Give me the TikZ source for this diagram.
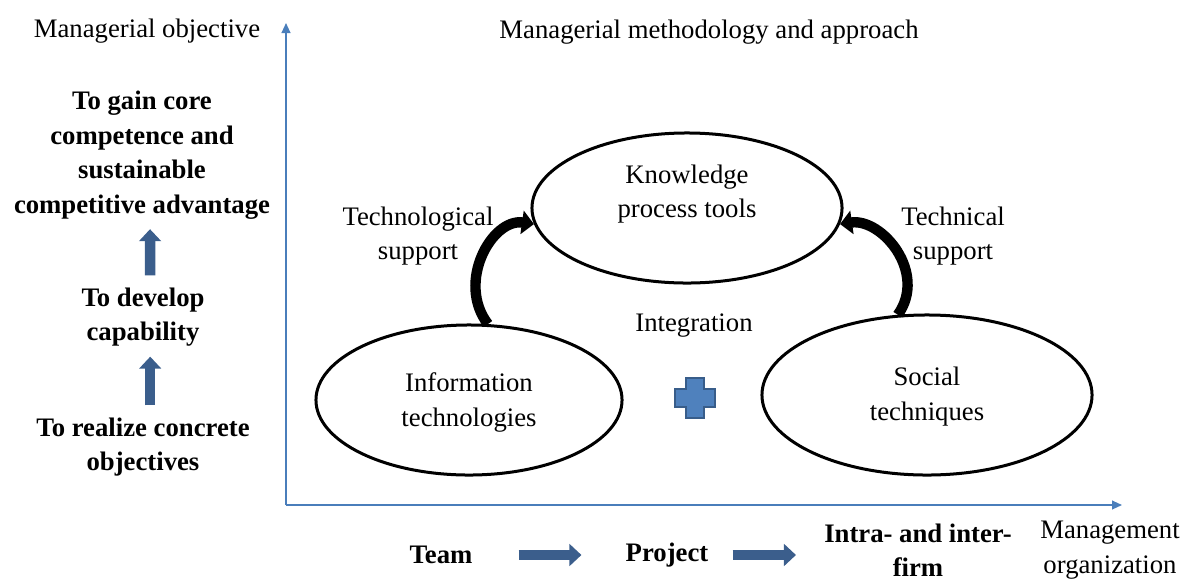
\documentclass[tikz,border=0pt]{standalone}
\usepackage{fontspec}
\setmainfont{Liberation Serif}
\usetikzlibrary{shapes.geometric, arrows.meta}

\definecolor{AxisBlue}{HTML}{4A7EBB}
\definecolor{BlockBlue}{HTML}{3B5E8C}
\definecolor{PlusFill}{HTML}{4F81BD}
\definecolor{PlusLine}{HTML}{385D8A}

\begin{document}
\begin{tikzpicture}
	[x=0.025cm, y=-0.025cm,								%1 unit = 1 pixel of the layout grid
	 every node/.style={font=\fontsize{19}{24.5}\selectfont, align=center, inner sep=0pt},
	 Goal/.style={font=\fontsize{19}{24.5}\selectfont\bfseries},
	 Method/.style={ellipse, draw, line width=0.075cm},	%Ellipses of the three methods
	 SupportArrow/.style={line width=0.26cm, -{Triangle[width=0.58cm, length=0.3cm]}},
	 FlowArrow/.style={BlockBlue, line width=0.26cm, -{Triangle[width=0.54cm, length=0.3cm]}},
	 Axis/.style={AxisBlue, line width=0.04cm, -{Triangle[width=0.22cm, length=0.25cm]}}
	]

	\useasboundingbox (0,0) rectangle (1189,579);

	% axes
	\coordinate (O) at (286,505);
	\coordinate (ytop) at (286,23);
	\coordinate (xend) at (1122,505);
	\draw[Axis] (O) -- (ytop);
	\draw[Axis] (O) -- (xend);

	\node (yname) at (147,31) {Managerial objective};
	\node (title) at (709,32) {Managerial methodology and approach};

	% managerial objectives, bottom to top
	\node[Goal] (gain) at (142,155) {To gain core\\competence and\\sustainable\\competitive advantage};
	\node[Goal] (develop) at (143,317) {To develop\\capability};
	\node[Goal] (realize) at (143,447) {To realize concrete\\objectives};
	\draw[FlowArrow, shorten <=0.3cm, shorten >=0.25cm] ([xshift=0.18cm]realize.north) -- ([xshift=0.18cm]develop.south);
	\draw[FlowArrow, shorten <=0.3cm, shorten >=0.25cm] ([xshift=0.18cm]develop.north) -- ([xshift=0.2cm]gain.south);

	% methods
	\node[Method, minimum width=7.75cm, minimum height=3.75cm] (know) at (687,208) {};
	\node (knowtext) at (687,194) {Knowledge\\process tools};
	\node[Method, minimum width=7.65cm, minimum height=3.75cm] (info) at (469,400) {};
	\node (infotext) at (469,402.5) {Information\\technologies};
	\node[Method, minimum width=8.25cm, minimum height=4cm] (social) at (927,395) {};
	\node (socialtext) at (927,396.5) {Social\\techniques};

	\draw[SupportArrow] (info.76) .. controls +(-32,-42) and +(-42,-6) .. (know.186);
	\draw[SupportArrow] (social.110) .. controls +(30,-42) and +(42,-6) .. (know.354);

	\node (techno) at (418,236) {Technological\\support};
	\node (techni) at (953,236) {Technical\\support};
	\node (integ) at (694,326) {Integration};

	% plus sign between the lower ellipses
	\draw[fill=PlusFill, draw=PlusLine, line width=0.06cm]
		(686,378) -- (704,378) -- (704,389) -- (715,389) -- (715,407) -- (704,407)
		-- (704,418) -- (686,418) -- (686,407) -- (675,407) -- (675,389) -- (686,389) -- cycle;

	% management organization
	\node[Goal] (team) at (441,555) {Team};
	\node[Goal] (project) at (667,555) {Project};
	\node[Goal] (firm) at (918,550) {Intra- and inter-\\firm};
	\node (xname) at (1110,550) {Management\\organization};
	\draw[FlowArrow, shorten <=1.15cm, shorten >=1.1cm] (team) -- (project);
	\draw[FlowArrow, shorten <=0.6cm, shorten >=0.7cm] (project) -- (project -| firm.west);

\end{tikzpicture}
\end{document}
